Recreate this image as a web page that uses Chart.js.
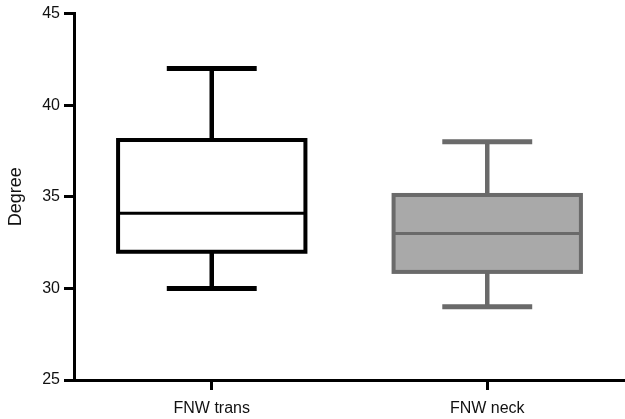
<!DOCTYPE html>
<html>
<head>
<meta charset="utf-8">
<script src="https://cdn.jsdelivr.net/npm/chart.js@4/dist/chart.umd.min.js"></script>
<style>
  html, body { margin: 0; padding: 0; background: #fff; }
  #wrap { width: 625px; height: 419px; }
</style>
</head>
<body>
<div id="wrap"><canvas id="c" width="625" height="419"></canvas></div>
<script>
const categories = ['FNW trans', 'FNW neck'];
const whiskerMin = [30, 29];
const q1 = [32, 30.9];
const median = [34.1, 33];
const q3 = [38.1, 35.1];
const whiskerMax = [42, 38];
const boxFill = ['#ffffff', '#a9a9a9'];
const boxStroke = ['#000000', '#6a6a6a'];
const yMin = 25, yMax = 45, yStep = 5;

const boxPlugin = {
  id: 'boxPlugin',
  afterDatasetsDraw(chart) {
    const ctx = chart.ctx;
    const y = chart.scales.y;
    const meta = chart.getDatasetMeta(0);
    meta.data.forEach((bar, i) => {
      const cx = bar.x;
      const half = bar.width / 2;
      const capHalf = bar.width * 0.24;
      const pTop = y.getPixelForValue(q3[i]);
      const pBot = y.getPixelForValue(q1[i]);
      const pMed = y.getPixelForValue(median[i]);
      const pMax = y.getPixelForValue(whiskerMax[i]);
      const pMin = y.getPixelForValue(whiskerMin[i]);
      ctx.save();
      ctx.strokeStyle = boxStroke[i];
      ctx.lineCap = 'butt';
      ctx.lineWidth = 4.5;
      ctx.beginPath();
      ctx.moveTo(cx, pTop); ctx.lineTo(cx, pMax);
      ctx.moveTo(cx, pBot); ctx.lineTo(cx, pMin);
      ctx.stroke();
      ctx.lineWidth = 5;
      ctx.beginPath();
      ctx.moveTo(cx - capHalf, pMax); ctx.lineTo(cx + capHalf, pMax);
      ctx.moveTo(cx - capHalf, pMin); ctx.lineTo(cx + capHalf, pMin);
      ctx.stroke();
      ctx.fillStyle = boxFill[i];
      ctx.fillRect(cx - half, pTop, bar.width, pBot - pTop);
      ctx.lineWidth = 4;
      ctx.strokeRect(cx - half, pTop, bar.width, pBot - pTop);
      ctx.lineWidth = 3;
      ctx.beginPath();
      ctx.moveTo(cx - half, pMed); ctx.lineTo(cx + half, pMed);
      ctx.stroke();
      ctx.restore();
    });
  }
};

new Chart(document.getElementById('c'), {
  type: 'bar',
  data: {
    labels: categories,
    datasets: [{
      data: categories.map((_, i) => [q1[i], q3[i]]),
      backgroundColor: 'rgba(0,0,0,0)',
      borderWidth: 0,
      barPercentage: 0.68,
      categoryPercentage: 1.0
    }]
  },
  options: {
    responsive: false,
    animation: false,
    devicePixelRatio: 1,
    layout: { padding: { top: 13, right: 0, left: 0, bottom: 0 } },
    plugins: { legend: { display: false }, tooltip: { enabled: false } },
    scales: {
      x: {
        offset: true,
        grid: { drawOnChartArea: false, offset: false, tickLength: 10, tickWidth: 3, tickColor: '#000' },
        border: { display: true, color: '#000', width: 3 },
        ticks: { color: '#111', font: { family: 'Liberation Sans', size: 16 }, padding: 9, maxRotation: 0 },
        afterFit(s) { s.height = 39; }
      },
      y: {
        min: yMin, max: yMax,
        grid: { drawOnChartArea: false, tickLength: 10, tickWidth: 3, tickColor: '#000' },
        border: { display: true, color: '#000', width: 3 },
        ticks: { stepSize: yStep, color: '#111', font: { family: 'Liberation Sans', size: 16 }, padding: 4 },
        title: { display: true, text: 'Degree', color: '#111', font: { family: 'Liberation Sans', size: 18 }, padding: { top: 5, bottom: 0 } },
        afterFit(s) { s.width = 74; }
      }
    }
  },
  plugins: [boxPlugin]
});
</script>
</body>
</html>
